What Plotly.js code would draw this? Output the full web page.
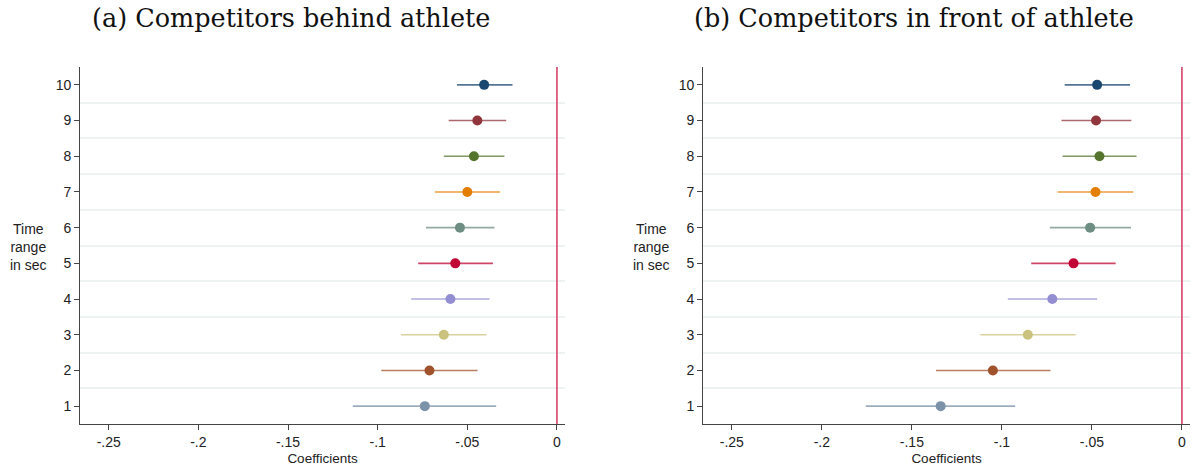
<!DOCTYPE html>
<html>
<head>
<meta charset="utf-8">
<script src="https://cdn.plot.ly/plotly-3.0.1.min.js"></script>
<style>html,body{margin:0;padding:0;background:#fff;}#chart{width:1193px;height:470px;}</style>
</head>
<body>
<div id="chart"></div>
<script>
// Time range in seconds (rows)
const rows = [1, 2, 3, 4, 5, 6, 7, 8, 9, 10];
// Panel (a) Competitors behind athlete
const estA = [-0.0737, -0.0711, -0.0631, -0.0594, -0.0567, -0.0541, -0.0500, -0.0463, -0.0444, -0.0406];
const loA  = [-0.1139, -0.0980, -0.0870, -0.0813, -0.0774, -0.0731, -0.0681, -0.0631, -0.0604, -0.0557];
const hiA  = [-0.0339, -0.0443, -0.0393, -0.0376, -0.0357, -0.0348, -0.0317, -0.0293, -0.0283, -0.0248];
// Panel (b) Competitors in front of athlete
const estB = [-0.1340, -0.1050, -0.0856, -0.0720, -0.0602, -0.0510, -0.0480, -0.0458, -0.0477, -0.0471];
const loB  = [-0.1756, -0.1366, -0.1120, -0.0967, -0.0837, -0.0734, -0.0691, -0.0663, -0.0669, -0.0651];
const hiB  = [-0.0926, -0.0730, -0.0590, -0.0471, -0.0368, -0.0283, -0.0270, -0.0252, -0.0281, -0.0288];
// Colors per row (1..10)
const colors = ['#7b92a8', '#a0522d', '#cac27e', '#938dd2', '#c10534', '#6e8e84', '#e37e00', '#55752f', '#90353b', '#1a476f'];
const xTickVals = [-0.25, -0.2, -0.15, -0.1, -0.05, 0];
const xTickText = ['-.25', '-.2', '-.15', '-.1', '-.05', '0'];
const titles = ['(a) Competitors behind athlete', '(b) Competitors in front of athlete'];

function hexA(h, a) {
  const r = parseInt(h.slice(1,3),16), g = parseInt(h.slice(3,5),16), b = parseInt(h.slice(5,7),16);
  return `rgba(${r},${g},${b},${a})`;
}

const traces = [];
function addPanel(est, lo, hi, xa, ya) {
  rows.forEach((r, i) => {
    traces.push({
      type: 'scatter', mode: 'markers', xaxis: xa, yaxis: ya,
      x: [est[i]], y: [r],
      marker: {color: colors[i], size: 10},
      error_x: {type: 'data', symmetric: false, array: [hi[i] - est[i]], arrayminus: [est[i] - lo[i]],
                color: hexA(colors[i], 0.75), thickness: 1.6, width: 0},
      showlegend: false, hoverinfo: 'x+y'
    });
  });
}
addPanel(estA, loA, hiA, 'x', 'y');
addPanel(estB, loB, hiB, 'x2', 'y2');

const fontSans = 'Liberation Sans, Arial, sans-serif';
function xaxis(domain, anchor) {
  return {
    domain: domain, anchor: anchor, range: [-0.266, 0.0045],
    tickvals: xTickVals, ticktext: xTickText, ticks: 'outside', ticklen: 5, tickcolor: '#444',
    showline: true, linecolor: '#444', linewidth: 1, showgrid: false, zeroline: false,
    tickfont: {family: fontSans, size: 14, color: '#222'},
    title: {text: 'Coefficients', font: {family: fontSans, size: 13.5, color: '#222'}, standoff: 4}
  };
}
function yaxis(anchor) {
  return {
    domain: [0.0979, 0.8574], anchor: anchor, range: [0.5, 10.5],
    tickvals: rows, ticktext: rows.map(String), ticks: 'outside', ticklen: 5, tickcolor: '#444',
    showline: true, linecolor: '#444', linewidth: 1, showgrid: false, zeroline: false,
    tickfont: {family: fontSans, size: 14, color: '#222'},
    minor: {tickmode: 'array', tickvals: rows.slice(0, 9).map(v => v + 0.5), showgrid: true,
            gridcolor: '#edf2f3', gridwidth: 2, ticklen: 0}
  };
}

const titleFont = {family: 'DejaVu Serif, Liberation Serif, serif', size: 25.5, color: '#111'};
const layout = {
  width: 1193, height: 470,
  margin: {l: 0, r: 0, t: 0, b: 0},
  paper_bgcolor: '#fff', plot_bgcolor: '#fff',
  xaxis: xaxis([0.0671, 0.4736], 'y'),
  yaxis: yaxis('x'),
  xaxis2: xaxis([0.5893, 0.9975], 'y2'),
  yaxis2: yaxis('x2'),
  shapes: [
    {type: 'line', xref: 'x', yref: 'y domain', x0: 0, x1: 0, y0: 0, y1: 1, line: {color: '#d6436a', width: 1.6}},
    {type: 'line', xref: 'x2', yref: 'y2 domain', x0: 0, x1: 0, y0: 0, y1: 1, line: {color: '#d6436a', width: 1.6}}
  ],
  annotations: [
    {text: titles[0], xref: 'paper', yref: 'paper', x: 291/1193, y: 1 - 18/470, xanchor: 'center', yanchor: 'middle',
     showarrow: false, font: titleFont},
    {text: titles[1], xref: 'paper', yref: 'paper', x: 914/1193, y: 1 - 18/470, xanchor: 'center', yanchor: 'middle',
     showarrow: false, font: titleFont},
    {text: 'Time<br>range<br>in sec', xref: 'paper', yref: 'paper', x: 28/1193, y: 1 - 247/470, xanchor: 'center', yanchor: 'middle',
     showarrow: false, align: 'center', font: {family: fontSans, size: 14, color: '#222'}},
    {text: 'Time<br>range<br>in sec', xref: 'paper', yref: 'paper', x: 651/1193, y: 1 - 247/470, xanchor: 'center', yanchor: 'middle',
     showarrow: false, align: 'center', font: {family: fontSans, size: 14, color: '#222'}}
  ]
};

Plotly.newPlot('chart', traces, layout, {displayModeBar: false, staticPlot: true});
</script>
</body>
</html>
